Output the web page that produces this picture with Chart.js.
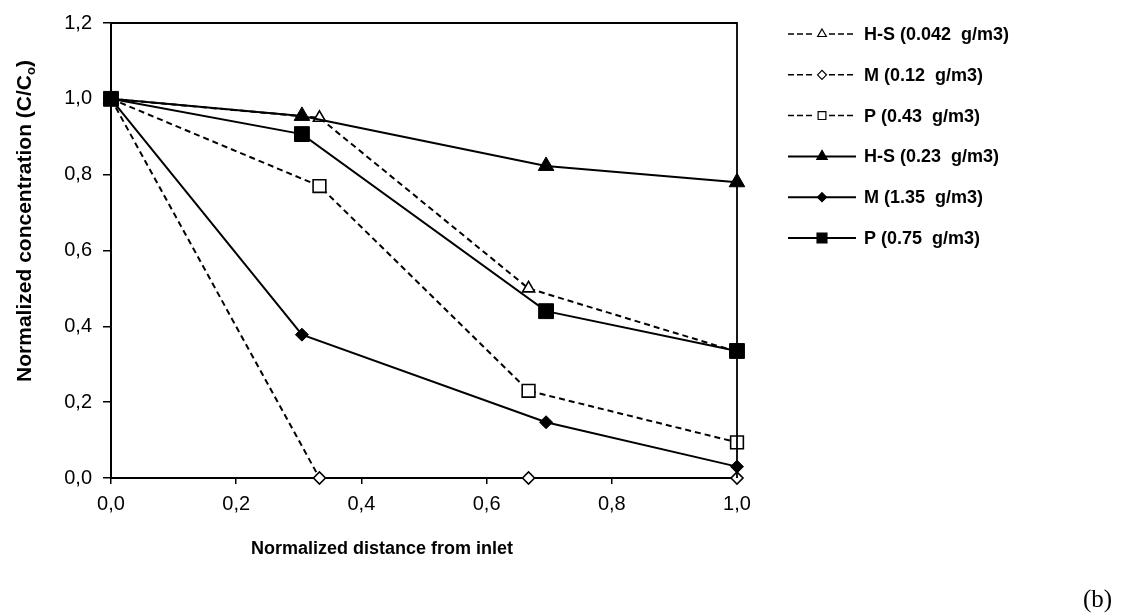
<!DOCTYPE html>
<html>
<head>
<meta charset="utf-8">
<script src="https://cdn.jsdelivr.net/npm/chart.js@4"></script>
<style>
  html, body { margin: 0; padding: 0; background: #fff; }
  #wrap { width: 1121px; height: 614px; position: relative; }
</style>
</head>
<body>
<div id="wrap"><canvas id="chart" width="1121" height="614"></canvas></div>
<script>
// x positions (normalized distance from inlet)
const xLow = [0, 0.333, 0.667, 1.0];
const xHigh = [0, 0.305, 0.695, 1.0];

// normalized concentration C/Co
const hsLow = [1.0, 0.95, 0.50, 0.333];
const mLow = [1.0, 0.0, 0.0, 0.0];
const pLow = [1.0, 0.77, 0.23, 0.094];
const hsHigh = [1.0, 0.955, 0.823, 0.78];
const mHigh = [1.0, 0.378, 0.147, 0.03];
const pHigh = [1.0, 0.907, 0.44, 0.335];

const seriesNames = ["H-S (0.042  g/m3)", "M (0.12  g/m3)", "P (0.43  g/m3)",
                     "H-S (0.23  g/m3)", "M (1.35  g/m3)", "P (0.75  g/m3)"];

const xTickLabels = ["0,0", "0,2", "0,4", "0,6", "0,8", "1,0"];
const yTickLabels = ["0,0", "0,2", "0,4", "0,6", "0,8", "1,0", "1,2"];

const pts = (xs, ys) => xs.map((x, i) => ({x: x, y: ys[i]}));

// style per series: dashed?, marker, filled?, radius
const styles = [
    {dash: true, shape: "triangle", fill: false, r: 7, lr: 5},
    {dash: true, shape: "rectRot", fill: false, r: 6, lr: 4.5},
    {dash: true, shape: "rect", fill: false, r: 9, lr: 5.5},
    {dash: false, shape: "triangle", fill: true, r: 9, lr: 6},
    {dash: false, shape: "rectRot", fill: true, r: 6.5, lr: 4.5},
    {dash: false, shape: "rect", fill: true, r: 10.5, lr: 7}
];
const seriesData = [pts(xLow, hsLow), pts(xLow, mLow), pts(xLow, pLow),
                    pts(xHigh, hsHigh), pts(xHigh, mHigh), pts(xHigh, pHigh)];

const datasets = seriesData.map((d, i) => {
    const s = styles[i];
    return {
        label: seriesNames[i],
        data: d,
        showLine: true,
        borderColor: "#000",
        borderWidth: 2,
        borderDash: s.dash ? [6, 4] : [],
        pointStyle: s.shape,
        pointRadius: s.r,
        pointHoverRadius: s.r,
        pointBackgroundColor: s.fill ? "#000" : "#fff",
        pointBorderColor: "#000",
        pointBorderWidth: s.fill ? 1 : 1.6,
        clip: false,
        order: s.dash ? 1 : 0
    };
});

function marker(ctx, shape, x, y, r, fill) {
    ctx.beginPath();
    if (shape === "triangle") {
        ctx.moveTo(x, y - r);
        ctx.lineTo(x + r * 0.866, y + r * 0.5);
        ctx.lineTo(x - r * 0.866, y + r * 0.5);
    } else if (shape === "rectRot") {
        ctx.moveTo(x - r, y); ctx.lineTo(x, y - r);
        ctx.lineTo(x + r, y); ctx.lineTo(x, y + r);
    } else {
        const h = r * Math.SQRT1_2;
        ctx.rect(x - h, y - h, 2 * h, 2 * h);
    }
    ctx.closePath();
    ctx.fillStyle = fill ? "#000" : "#fff";
    ctx.fill();
    ctx.lineWidth = 1.2;
    ctx.strokeStyle = "#000";
    ctx.stroke();
}

const decor = {
    id: "decor",
    afterDraw(chart) {
        const ctx = chart.ctx;
        const a = chart.chartArea;
        ctx.save();
        // top and right frame
        ctx.strokeStyle = "#000";
        ctx.lineWidth = 1.8;
        ctx.beginPath();
        ctx.moveTo(a.left, a.top);
        ctx.lineTo(a.right, a.top);
        ctx.lineTo(a.right, a.bottom);
        ctx.stroke();

        // legend
        ctx.font = "bold 18px 'Liberation Sans', Arial, sans-serif";
        ctx.textBaseline = "middle";
        ctx.textAlign = "left";
        seriesNames.forEach((name, i) => {
            const s = styles[i];
            const y = 34 + i * 40.8;
            ctx.strokeStyle = "#000";
            ctx.lineWidth = s.dash ? 1.5 : 2;
            ctx.setLineDash(s.dash ? [6, 3] : []);
            ctx.beginPath();
            ctx.moveTo(788, y); ctx.lineTo(815, y);
            ctx.moveTo(829, y); ctx.lineTo(856, y);
            if (!s.dash) { ctx.moveTo(815, y); ctx.lineTo(829, y); }
            ctx.stroke();
            ctx.setLineDash([]);
            marker(ctx, s.shape, 822, y, s.lr, s.fill);
            ctx.fillStyle = "#000";
            ctx.fillText(name, 864, y + 1);
        });

        // x axis title
        ctx.textAlign = "center";
        ctx.textBaseline = "alphabetic";
        ctx.fillText("Normalized distance from inlet", 382, 554);

        // y axis title with subscript
        ctx.translate(31, 221);
        ctx.rotate(-Math.PI / 2);
        const main = "Normalized concentration (C/C";
        ctx.textAlign = "left";
        const fMain = "bold 21px 'Liberation Sans', Arial, sans-serif";
        const fSub = "bold 13px 'Liberation Sans', Arial, sans-serif";
        ctx.font = fMain;
        const w1 = ctx.measureText(main).width;
        const w3 = ctx.measureText(")").width;
        ctx.font = fSub;
        const w2 = ctx.measureText("o").width;
        let x0 = -(w1 + w2 + w3) / 2;
        ctx.font = fMain;
        ctx.fillText(main, x0, 0);
        ctx.font = fSub;
        ctx.fillText("o", x0 + w1, 4);
        ctx.font = fMain;
        ctx.fillText(")", x0 + w1 + w2, 0);
        ctx.setTransform(1, 0, 0, 1, 0, 0);

        // panel label
        ctx.font = "25px 'Liberation Serif', 'Times New Roman', serif";
        ctx.textAlign = "left";
        ctx.fillText("(b)", 1083, 607);
        ctx.restore();
    }
};

const ctx = document.getElementById("chart").getContext("2d");
new Chart(ctx, {
    type: "scatter",
    data: {datasets: datasets},
    options: {
        responsive: false,
        animation: false,
        events: [],
        layout: {padding: {left: 0, top: 18, right: 384, bottom: 96}},
        plugins: {legend: {display: false}, tooltip: {enabled: false}},
        scales: {
            x: {
                type: "linear", min: 0, max: 1.0,
                afterFit: s => { s.height = 40; },
                border: {display: true, color: "#000", width: 2},
                grid: {drawOnChartArea: false, drawTicks: true, tickLength: 6, color: "#000", lineWidth: 1.5},
                ticks: {
                    stepSize: 0.2, color: "#000", padding: 8,
                    font: {family: "'Liberation Sans', Arial, sans-serif", size: 20},
                    callback: (v, i) => xTickLabels[i]
                }
            },
            y: {
                min: 0, max: 1.2,
                afterFit: s => { s.width = 111; },
                border: {display: true, color: "#000", width: 2},
                grid: {drawOnChartArea: false, drawTicks: true, tickLength: 8, color: "#000", lineWidth: 1.5},
                ticks: {
                    stepSize: 0.2, color: "#000", padding: 11,
                    font: {family: "'Liberation Sans', Arial, sans-serif", size: 20},
                    callback: (v, i) => yTickLabels[i]
                }
            }
        }
    },
    plugins: [decor]
});
</script>
</body>
</html>
